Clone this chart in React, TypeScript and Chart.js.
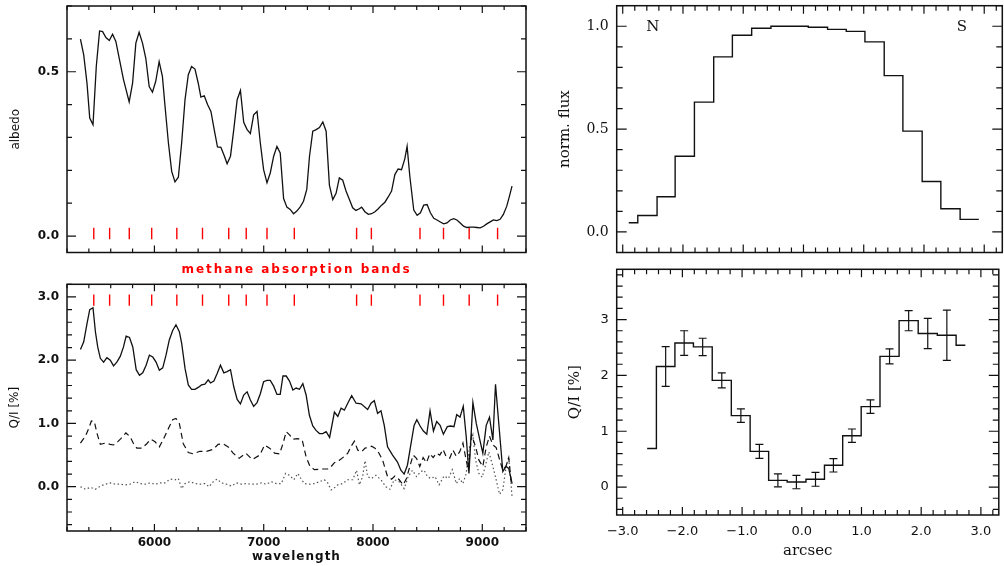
import React, { useEffect, useRef } from "react";
import { Chart, registerables } from "chart.js";

Chart.register(...registerables);

// ---------------- data ----------------
type Pt = [number, number];

// wavelength (Å) vs geometric albedo
const albedoSpectrum: Pt[] = [
  [5323, 0.599], [5353, 0.551], [5383, 0.465], [5408, 0.359], [5438, 0.339], [5468, 0.516], [5498, 0.624],
  [5526, 0.622], [5556, 0.604], [5587, 0.595], [5617, 0.614], [5647, 0.592], [5678, 0.541], [5717, 0.476],
  [5769, 0.408], [5800, 0.465], [5830, 0.587], [5860, 0.62], [5891, 0.587], [5921, 0.541], [5952, 0.455],
  [5982, 0.438], [6012, 0.471], [6043, 0.531], [6073, 0.486], [6097, 0.395], [6128, 0.283], [6158, 0.197],
  [6188, 0.165], [6219, 0.179], [6249, 0.283], [6280, 0.415], [6310, 0.491], [6340, 0.516], [6371, 0.508],
  [6401, 0.465], [6425, 0.423], [6456, 0.427], [6486, 0.4], [6517, 0.379], [6547, 0.324], [6577, 0.271],
  [6608, 0.27], [6638, 0.245], [6665, 0.22], [6696, 0.243], [6726, 0.324], [6757, 0.415], [6787, 0.443],
  [6817, 0.346], [6848, 0.324], [6878, 0.312], [6908, 0.369], [6939, 0.379], [6969, 0.283], [6999, 0.202],
  [7030, 0.162], [7060, 0.192], [7091, 0.243], [7121, 0.273], [7151, 0.253], [7182, 0.114], [7212, 0.088],
  [7242, 0.081], [7273, 0.068], [7303, 0.076], [7334, 0.089], [7364, 0.106], [7394, 0.142], [7419, 0.243],
  [7449, 0.319], [7480, 0.324], [7510, 0.33], [7541, 0.347], [7571, 0.319], [7601, 0.155], [7632, 0.111],
  [7662, 0.13], [7692, 0.177], [7723, 0.17], [7753, 0.137], [7784, 0.111], [7814, 0.086], [7844, 0.078],
  [7875, 0.083], [7896, 0.088], [7926, 0.074], [7957, 0.066], [7987, 0.068], [8018, 0.074], [8048, 0.083],
  [8079, 0.094], [8109, 0.103], [8139, 0.119], [8170, 0.137], [8200, 0.187], [8230, 0.204], [8261, 0.202],
  [8291, 0.235], [8312, 0.273], [8337, 0.182], [8373, 0.079], [8404, 0.063], [8434, 0.071], [8464, 0.094],
  [8495, 0.096], [8525, 0.071], [8556, 0.054], [8586, 0.049], [8616, 0.043], [8647, 0.037], [8677, 0.04],
  [8707, 0.049], [8738, 0.053], [8768, 0.049], [8798, 0.04], [8829, 0.03], [8859, 0.026], [8890, 0.027],
  [8920, 0.027], [8950, 0.026], [8981, 0.025], [9011, 0.03], [9041, 0.037], [9072, 0.043], [9102, 0.049],
  [9133, 0.047], [9163, 0.051], [9193, 0.066], [9224, 0.091], [9248, 0.121], [9272, 0.152],
];

// Q/I (%) spectra: solid, dashed, dotted
const qiSolid: Pt[] = [
  [5323, 2.17], [5353, 2.29], [5383, 2.58], [5408, 2.8], [5438, 2.83], [5460, 2.45], [5481, 2.21], [5505, 2.03],
  [5535, 1.97], [5565, 2.04], [5596, 2.0], [5626, 1.91], [5656, 1.97], [5687, 2.06], [5717, 2.21], [5741, 2.38],
  [5772, 2.36], [5802, 2.21], [5833, 1.85], [5863, 1.76], [5893, 1.8], [5924, 1.92], [5954, 2.08], [5985, 2.05],
  [6015, 1.97], [6045, 1.84], [6076, 1.88], [6106, 2.08], [6136, 2.32], [6167, 2.47], [6197, 2.56], [6228, 2.45],
  [6249, 2.27], [6280, 1.87], [6310, 1.61], [6340, 1.54], [6371, 1.54], [6401, 1.57], [6431, 1.61], [6462, 1.62],
  [6492, 1.69], [6513, 1.64], [6544, 1.67], [6574, 1.79], [6604, 1.92], [6635, 1.8], [6665, 1.82], [6696, 1.85],
  [6726, 1.58], [6757, 1.38], [6787, 1.31], [6817, 1.45], [6848, 1.5], [6878, 1.37], [6908, 1.27], [6939, 1.33],
  [6969, 1.47], [6999, 1.66], [7030, 1.68], [7060, 1.68], [7091, 1.59], [7121, 1.46], [7151, 1.46], [7176, 1.75],
  [7206, 1.75], [7236, 1.67], [7267, 1.53], [7297, 1.56], [7327, 1.54], [7358, 1.63], [7388, 1.45], [7418, 1.13],
  [7449, 0.96], [7479, 0.89], [7510, 0.84], [7540, 0.84], [7571, 0.87], [7603, 0.78], [7647, 1.18], [7678, 1.11],
  [7708, 1.24], [7738, 1.21], [7769, 1.32], [7805, 1.44], [7845, 1.32], [7891, 1.31], [7951, 1.22], [7982, 1.32],
  [8012, 1.36], [8042, 1.16], [8073, 1.2], [8103, 0.97], [8133, 0.63], [8179, 0.5], [8224, 0.39], [8255, 0.26],
  [8285, 0.2], [8315, 0.34], [8346, 0.66], [8376, 0.97], [8401, 1.06], [8431, 0.96], [8461, 0.88], [8492, 0.83],
  [8522, 1.2], [8553, 0.88], [8583, 1.03], [8614, 0.97], [8644, 0.83], [8680, 0.95], [8711, 0.96], [8741, 0.95],
  [8766, 1.14], [8796, 1.1], [8826, 1.27], [8853, 0.79], [8878, 0.21], [8914, 1.33], [8945, 1.0], [8975, 0.76],
  [9005, 0.53], [9036, 0.97], [9066, 1.1], [9097, 0.74], [9121, 1.62], [9151, 1.0], [9188, 0.24], [9218, 0.32],
  [9242, 0.29], [9273, 0.05],
];

const qiDashed: Pt[] = [
  [5323, 0.69], [5369, 0.8], [5399, 0.92], [5423, 1.04], [5450, 1.03], [5475, 0.84], [5505, 0.67], [5551, 0.69],
  [5596, 0.67], [5626, 0.66], [5663, 0.71], [5693, 0.76], [5739, 0.85], [5778, 0.79], [5809, 0.68], [5839, 0.61],
  [5885, 0.61], [5930, 0.68], [5967, 0.75], [6006, 0.71], [6045, 0.63], [6082, 0.75], [6128, 0.92], [6167, 1.06],
  [6197, 1.08], [6228, 1.0], [6264, 0.68], [6310, 0.54], [6356, 0.52], [6416, 0.56], [6477, 0.56], [6538, 0.59],
  [6583, 0.67], [6629, 0.68], [6675, 0.63], [6720, 0.53], [6775, 0.45], [6836, 0.53], [6896, 0.43], [6963, 0.5],
  [7009, 0.66], [7054, 0.61], [7100, 0.53], [7145, 0.52], [7176, 0.68], [7206, 0.87], [7236, 0.82], [7267, 0.75],
  [7312, 0.76], [7352, 0.74], [7388, 0.47], [7424, 0.32], [7464, 0.27], [7525, 0.28], [7586, 0.28], [7603, 0.29],
  [7647, 0.38], [7693, 0.42], [7738, 0.48], [7769, 0.53], [7800, 0.64], [7830, 0.72], [7860, 0.58], [7896, 0.55],
  [7927, 0.61], [7957, 0.62], [7987, 0.64], [8018, 0.61], [8048, 0.55], [8088, 0.42], [8133, 0.16], [8170, 0.12],
  [8200, 0.17], [8240, 0.11], [8276, 0.03], [8306, 0.13], [8337, 0.32], [8367, 0.5], [8398, 0.45], [8428, 0.32],
  [8459, 0.46], [8489, 0.38], [8520, 0.52], [8550, 0.46], [8580, 0.53], [8611, 0.5], [8641, 0.59], [8671, 0.47],
  [8702, 0.45], [8732, 0.58], [8762, 0.48], [8793, 0.55], [8823, 0.69], [8848, 0.46], [8872, 0.26], [8902, 0.82],
  [8939, 0.63], [8969, 0.42], [9005, 0.32], [9036, 0.63], [9066, 0.8], [9097, 0.66], [9127, 0.62], [9158, 0.43],
  [9188, 0.26], [9218, 0.33], [9242, 0.46], [9267, 0.03],
];

const qiDotted: Pt[] = [
  [5323, 0.0], [5369, -0.04], [5414, -0.01], [5460, -0.04], [5505, 0.01], [5551, 0.04], [5596, 0.06], [5641, 0.04],
  [5687, 0.04], [5733, 0.03], [5778, 0.04], [5824, 0.08], [5870, 0.05], [5915, 0.04], [5961, 0.06], [6006, 0.04],
  [6052, 0.06], [6097, 0.06], [6143, 0.12], [6188, 0.11], [6219, 0.13], [6249, -0.03], [6280, 0.05], [6325, 0.08],
  [6371, 0.05], [6416, 0.04], [6462, 0.05], [6501, 0.0], [6538, 0.08], [6574, 0.12], [6614, 0.06], [6659, 0.04],
  [6705, 0.01], [6751, 0.06], [6796, 0.04], [6842, 0.05], [6887, 0.04], [6933, 0.04], [6979, 0.06], [7024, 0.04],
  [7070, 0.08], [7115, 0.05], [7161, 0.05], [7200, 0.21], [7236, 0.18], [7276, 0.11], [7312, 0.21], [7343, 0.12],
  [7373, 0.05], [7418, 0.04], [7464, 0.05], [7510, 0.08], [7555, 0.11], [7586, 0.06], [7617, -0.05], [7632, -0.04],
  [7678, 0.03], [7723, 0.05], [7769, 0.11], [7814, 0.11], [7850, 0.26], [7875, 0.03], [7905, 0.16], [7927, 0.41],
  [7951, 0.16], [7987, 0.13], [8027, 0.18], [8073, 0.11], [8118, 0.0], [8155, -0.04], [8194, 0.11], [8240, 0.08],
  [8285, -0.03], [8322, 0.16], [8361, 0.26], [8398, 0.16], [8437, 0.24], [8468, 0.26], [8498, 0.16], [8529, 0.13],
  [8568, 0.16], [8605, 0.03], [8650, 0.17], [8690, 0.13], [8726, 0.27], [8762, 0.05], [8793, 0.13], [8823, 0.05],
  [8853, 0.21], [8884, 0.64], [8914, 0.82], [8939, 0.42], [8969, 0.21], [8999, 0.15], [9030, 0.34], [9060, 0.55],
  [9097, 0.32], [9127, 0.11], [9158, -0.12], [9188, -0.05], [9218, 0.32], [9242, 0.47], [9273, -0.17],
];

// methane absorption band positions (Å)
const bandWl = [5445, 5590, 5770, 5975, 6205, 6440, 6680, 6840, 7030, 7280, 7850, 7985, 8430, 8645, 8880, 9140];
const bandSpanAlbedo: Pt = [-0.01, 0.025];
const bandSpanQI: Pt = [2.86, 3.04];

// slit profile: bin edges (arcsec) and normalized flux per bin
const fluxEdges = [-2.9, -2.75, -2.43, -2.13, -1.81, -1.49, -1.18, -0.86, -0.54, -0.22, 0.08, 0.4, 0.71, 1.02, 1.34, 1.65, 1.97, 2.28, 2.6, 2.91];
const fluxLevels = [0.045, 0.08, 0.171, 0.368, 0.631, 0.851, 0.956, 0.99, 1.0, 1.0, 0.995, 0.985, 0.975, 0.924, 0.76, 0.49, 0.245, 0.113, 0.061];

// Q/I along the slit: bin centres (arcsec), values (%), errors (%)
const qiPos = [-2.59, -2.28, -1.97, -1.66, -1.34, -1.02, -0.71, -0.4, -0.09, 0.23, 0.53, 0.84, 1.15, 1.47, 1.79, 2.11, 2.43, 2.74];
const qiProfile = [0.69, 2.16, 2.58, 2.51, 1.91, 1.28, 0.64, 0.12, 0.09, 0.14, 0.39, 0.92, 1.44, 2.34, 2.98, 2.75, 2.72, 2.54];
const qiErr = [null, 0.355, 0.22, 0.155, 0.135, 0.12, 0.125, 0.115, 0.12, 0.125, 0.12, 0.12, 0.12, 0.135, 0.18, 0.27, 0.45, null];

// tick labels
const wlTicks = [6000, 7000, 8000, 9000];
const albedoTicks = [0, 0.5];
const qiTicks = [0, 1, 2, 3];
const fluxTicks = [0, 0.5, 1];
const arcTicks = [-3, -2, -1, 0, 1, 2, 3];
const qiRTicks = [0, 1, 2, 3];

// ---------------- styling / helpers ----------------
const SANS = "'DejaVu Sans', sans-serif";
const SERIF = "'DejaVu Serif', serif";
const INK = "#111";
const RED = "#f00";

const toXY = (pts: Pt[]) => pts.map(([x, y]) => ({ x, y }));

const bandMarks = (wls: number[], span: Pt) => {
  const out: any[] = [];
  wls.forEach((w) => {
    out.push({ x: w, y: span[0] }, { x: w, y: span[1] }, { x: w, y: null });
  });
  return out;
};

const framePlugin = {
  id: "frameTicks",
  afterDatasetsDraw(chart: any, _a: any, o: any) {
    const { ctx, chartArea: a } = chart;
    const xs = chart.scales.x;
    const ys = chart.scales.y;
    const eps = 1e-6;
    ctx.save();
    ctx.strokeStyle = INK;
    ctx.lineWidth = 1.2;
    ctx.beginPath();
    for (let k = Math.ceil(xs.min / o.xMinor - eps); k * o.xMinor <= xs.max + eps; k++) {
      const v = k * o.xMinor;
      const major = Math.abs(v / o.xMajor - Math.round(v / o.xMajor)) < 1e-6;
      const len = major ? o.xLen[0] : o.xLen[1];
      const p = xs.getPixelForValue(v);
      ctx.moveTo(p, a.bottom);
      ctx.lineTo(p, a.bottom - len);
      ctx.moveTo(p, a.top);
      ctx.lineTo(p, a.top + len);
    }
    for (let k = Math.ceil(ys.min / o.yMinor - eps); k * o.yMinor <= ys.max + eps; k++) {
      const v = k * o.yMinor;
      const major = Math.abs(v / o.yMajor - Math.round(v / o.yMajor)) < 1e-6;
      const len = major ? o.yLen[0] : o.yLen[1];
      const p = ys.getPixelForValue(v);
      ctx.moveTo(a.left, p);
      ctx.lineTo(a.left + len, p);
      ctx.moveTo(a.right, p);
      ctx.lineTo(a.right - len, p);
    }
    ctx.stroke();
    ctx.lineWidth = 1.5;
    ctx.strokeRect(a.left, a.top, a.right - a.left, a.bottom - a.top);
    ctx.restore();
  },
};

const textPlugin = {
  id: "cornerText",
  afterDraw(chart: any, _a: any, o: any) {
    if (!o || !o.items) return;
    const { ctx, chartArea: a } = chart;
    ctx.save();
    ctx.fillStyle = INK;
    ctx.font = o.font;
    ctx.textAlign = "center";
    ctx.textBaseline = "middle";
    o.items.forEach((it: any) => {
      const x = it.fromRight ? a.right - it.dx : a.left + it.dx;
      ctx.fillText(it.text, x, a.top + it.dy);
    });
    ctx.restore();
  },
};

const spacingPlugin = {
  id: "titleSpacing",
  afterLayout(chart: any, _a: any, o: any) {
    const map = (o && o.spacing) || {};
    Object.keys(map).forEach((id) => {
      const s = chart.scales[id];
      if (!s || s.__ls) return;
      const orig = s.drawTitle;
      s.drawTitle = function (...args: any[]) {
        const c = this.ctx;
        const prev = c.letterSpacing;
        c.letterSpacing = map[id];
        orig.apply(this, args);
        c.letterSpacing = prev;
      };
      s.__ls = true;
    });
  },
};

type Box = { cx: number; cy: number; cw: number; ch: number; l: number; t: number; r: number; b: number };

const boxTL: Box = { cx: 0, cy: 0, cw: 536, ch: 278, l: 67, t: 6, r: 526, b: 252.5 };
const boxBL: Box = { cx: 0, cy: 278, cw: 536, ch: 288, l: 67, t: 284.3, r: 526, b: 531 };
const boxTR: Box = { cx: 540, cy: 0, cw: 464, ch: 262, l: 616.7, t: 5.7, r: 1002.3, b: 252.5 };
const boxBR: Box = { cx: 540, cy: 262, cw: 464, ch: 304, l: 616.7, t: 269.3, r: 1002.3, b: 515 };

const setTicks = (vals: number[]) => (s: any) => {
  s.ticks = vals.map((v) => ({ value: v }));
};

const fitX = (box: Box) => (s: any) => {
  s.height = box.cy + box.ch - box.b;
  s.paddingLeft = 0;
  s.paddingRight = 0;
  s.paddingTop = 0;
  s.paddingBottom = 0;
};
const fitY = (box: Box) => (s: any) => {
  s.width = box.l - box.cx;
  s.paddingLeft = 0;
  s.paddingRight = 0;
  s.paddingTop = 0;
  s.paddingBottom = 0;
};

const baseOptions = (box: Box) => ({
  animation: false,
  responsive: false,
  devicePixelRatio: 1,
  events: [],
  layout: { padding: { top: box.t - box.cy, right: box.cx + box.cw - box.r, left: 0, bottom: 0 } },
});

const hideGrid = { display: false, drawTicks: false };
const noBorder = { display: false };

const lineDs = (data: any[], extra: any = {}) => ({
  data,
  borderColor: INK,
  borderWidth: 1.3,
  pointRadius: 0,
  tension: 0,
  fill: false,
  ...extra,
});

const minus = (v: number) => (v < 0 ? "\u2212" : "") + Math.abs(v).toFixed(1);

const leftFont = { family: SANS, size: 12, weight: "bold" as const };

function configTL(): any {
  const box = boxTL;
  return {
    type: "line",
    data: {
      datasets: [
        lineDs(toXY(albedoSpectrum)),
        lineDs(bandMarks(bandWl, bandSpanAlbedo), { borderColor: RED, borderWidth: 1.4, spanGaps: false }),
      ],
    },
    options: {
      ...baseOptions(box),
      plugins: {
        legend: { display: false },
        tooltip: { enabled: false },
        frameTicks: { xMinor: 200, xMajor: 1000, yMinor: 0.1, yMajor: 0.5, xLen: [7, 4], yLen: [9, 5] },
        titleSpacing: { spacing: { x: "2px" } },
      },
      scales: {
        x: {
          type: "linear",
          min: 5200,
          max: 9400,
          afterBuildTicks: setTicks(wlTicks),
          ticks: { display: false },
          grid: hideGrid,
          border: noBorder,
          title: {
            display: true,
            text: "methane absorption bands",
            color: RED,
            font: { family: SANS, size: 12, weight: "bold" },
            padding: { top: 0, bottom: 1 },
          },
          afterFit: fitX(box),
        },
        y: {
          type: "linear",
          min: -0.05,
          max: 0.7,
          afterBuildTicks: setTicks(albedoTicks),
          ticks: { callback: (v: number) => v.toFixed(1), font: leftFont, color: INK, padding: 8 },
          grid: hideGrid,
          border: noBorder,
          title: { display: true, text: "albedo", color: INK, font: { family: SANS, size: 12 }, padding: { top: 9, bottom: 0 } },
          afterFit: fitY(box),
        },
      },
    },
    plugins: [framePlugin, spacingPlugin],
  };
}

function configBL(): any {
  const box = boxBL;
  return {
    type: "line",
    data: {
      datasets: [
        lineDs(toXY(qiSolid)),
        lineDs(toXY(qiDashed), { borderDash: [6, 4], borderWidth: 1.2 }),
        lineDs(toXY(qiDotted), { borderDash: [1.5, 2.5], borderWidth: 1.2, borderColor: "#555" }),
        lineDs(bandMarks(bandWl, bandSpanQI), { borderColor: RED, borderWidth: 1.4, spanGaps: false }),
      ],
    },
    options: {
      ...baseOptions(box),
      plugins: {
        legend: { display: false },
        tooltip: { enabled: false },
        frameTicks: { xMinor: 200, xMajor: 1000, yMinor: 0.2, yMajor: 1, xLen: [7, 4], yLen: [9, 5] },
        titleSpacing: { spacing: { x: "1px" } },
      },
      scales: {
        x: {
          type: "linear",
          min: 5200,
          max: 9400,
          afterBuildTicks: setTicks(wlTicks),
          ticks: { callback: (v: number) => String(v), font: leftFont, color: INK, padding: 5, maxRotation: 0 },
          grid: hideGrid,
          border: noBorder,
          title: { display: true, text: "wavelength", color: INK, font: leftFont, padding: { top: 0, bottom: 2 } },
          afterFit: fitX(box),
        },
        y: {
          type: "linear",
          min: -0.7,
          max: 3.2,
          afterBuildTicks: setTicks(qiTicks),
          ticks: { callback: (v: number) => v.toFixed(1), font: leftFont, color: INK, padding: 8 },
          grid: hideGrid,
          border: noBorder,
          title: { display: true, text: "Q/I [%]", color: INK, font: { family: SANS, size: 12 }, padding: { top: 8, bottom: 0 } },
          afterFit: fitY(box),
        },
      },
    },
    plugins: [framePlugin, spacingPlugin],
  };
}

function configTR(): any {
  const box = boxTR;
  const steps = fluxEdges.map((e, i) => ({ x: e, y: fluxLevels[Math.min(i, fluxLevels.length - 1)] }));
  return {
    type: "line",
    data: { datasets: [lineDs(steps, { stepped: true, borderWidth: 1.4 })] },
    options: {
      ...baseOptions(box),
      plugins: {
        legend: { display: false },
        tooltip: { enabled: false },
        frameTicks: { xMinor: 0.2, xMajor: 1, yMinor: 0.1, yMajor: 0.5, xLen: [8, 5], yLen: [10, 6] },
        cornerText: {
          font: `15px ${SERIF}`,
          items: [
            { text: "N", dx: 36, dy: 21.5 },
            { text: "S", dx: 40.5, dy: 21.5, fromRight: true },
          ],
        },
      },
      scales: {
        x: {
          type: "linear",
          min: -3.1,
          max: 3.3,
          afterBuildTicks: setTicks(arcTicks),
          ticks: { display: false },
          grid: hideGrid,
          border: noBorder,
          afterFit: fitX(box),
        },
        y: {
          type: "linear",
          min: -0.1,
          max: 1.1,
          afterBuildTicks: setTicks(fluxTicks),
          ticks: { callback: (v: number) => v.toFixed(1), font: { family: SERIF, size: 14 }, color: INK, padding: 8 },
          grid: hideGrid,
          border: noBorder,
          title: { display: true, text: "norm. flux", color: INK, font: { family: SERIF, size: 15 }, padding: { top: 16, bottom: 0 } },
          afterFit: fitY(box),
        },
      },
    },
    plugins: [framePlugin, textPlugin],
  };
}

function configBR(): any {
  const box = boxBR;
  const profile = qiPos.map((x, i) => ({ x, y: qiProfile[i] }));
  const bars: any[] = [];
  qiPos.forEach((x, i) => {
    const e = qiErr[i];
    if (e == null) return;
    bars.push({ x, y: qiProfile[i] - e }, { x, y: qiProfile[i] + e }, { x, y: null });
  });
  return {
    type: "line",
    data: {
      datasets: [
        lineDs(profile, { stepped: "middle", borderWidth: 1.4 }),
        lineDs(bars, {
          borderWidth: 1.2,
          spanGaps: false,
          pointStyle: "line",
          pointRadius: 4,
          pointBorderWidth: 1.2,
          pointBorderColor: INK,
        }),
      ],
    },
    options: {
      ...baseOptions(box),
      plugins: {
        legend: { display: false },
        tooltip: { enabled: false },
        frameTicks: { xMinor: 0.2, xMajor: 1, yMinor: 0.2, yMajor: 1, xLen: [8, 5], yLen: [10, 6] },
      },
      scales: {
        x: {
          type: "linear",
          min: -3.1,
          max: 3.3,
          afterBuildTicks: setTicks(arcTicks),
          ticks: { callback: (v: number) => minus(v), font: { family: SANS, size: 13 }, color: INK, padding: 8.5, maxRotation: 0 },
          grid: hideGrid,
          border: noBorder,
          title: { display: true, text: "arcsec", color: INK, font: { family: SERIF, size: 15 }, padding: { top: 0, bottom: 6.3 } },
          afterFit: fitX(box),
        },
        y: {
          type: "linear",
          min: -0.5,
          max: 3.9,
          afterBuildTicks: setTicks(qiRTicks),
          ticks: { callback: (v: number) => String(v), font: { family: SANS, size: 13 }, color: INK, padding: 8 },
          grid: hideGrid,
          border: noBorder,
          title: { display: true, text: "Q/I [%]", color: INK, font: { family: SERIF, size: 15 }, padding: { top: 26, bottom: 0 } },
          afterFit: fitY(box),
        },
      },
    },
    plugins: [framePlugin],
  };
}

function Panel({ box, make }: { box: Box; make: () => any }) {
  const ref = useRef<HTMLCanvasElement>(null);
  useEffect(() => {
    const chart = new Chart(ref.current as HTMLCanvasElement, make());
    return () => chart.destroy();
  }, []);
  return (
    <canvas
      ref={ref}
      width={box.cw}
      height={box.ch}
      style={{ position: "absolute", left: box.cx, top: box.cy, width: box.cw, height: box.ch }}
    />
  );
}

export default function App() {
  return (
    <div style={{ position: "absolute", left: 0, top: 0, width: 1004, height: 566, background: "#fff", overflow: "hidden" }}>
      <Panel box={boxTL} make={configTL} />
      <Panel box={boxBL} make={configBL} />
      <Panel box={boxTR} make={configTR} />
      <Panel box={boxBR} make={configBR} />
    </div>
  );
}
